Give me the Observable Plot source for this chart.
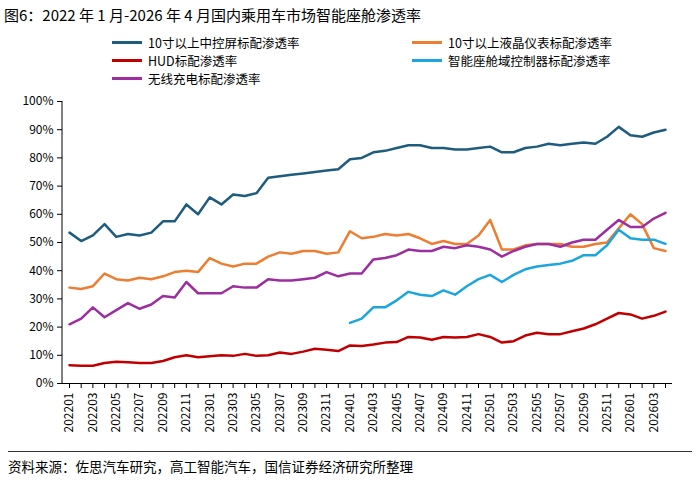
<!DOCTYPE html><html><head><meta charset="utf-8">
<script src="https://cdn.jsdelivr.net/npm/d3@7"></script>
<script src="https://cdn.jsdelivr.net/npm/@observablehq/plot@0.6"></script>
<style>body{margin:0;font-family:"Noto Sans CJK SC",sans-serif;background:#fff;width:700px}
.t{font-size:15px;margin:4px 0 0 4px;height:22px;line-height:22px}
.lg{display:grid;grid-template-columns:300px 300px;margin:8px 0 0 112px;font-size:12.5px;row-gap:1px}
.lg div{display:flex;align-items:center;height:17px;line-height:17px;white-space:nowrap}
.lg span{display:inline-block;width:30px;height:3px;margin-right:6px}
.cap{border-top:1px solid #333;margin:4px 8px 0 8px;padding-top:4px;font-size:13.5px}
</style></head><body>
<div class="t">图6：2022 年 1 月-2026 年 4 月国内乘用车市场智能座舱渗透率</div>
<div class="lg">
<div><span style="background:#1d5c7e"></span>10寸以上中控屏标配渗透率</div>
<div><span style="background:#ed7d31"></span>10寸以上液晶仪表标配渗透率</div>
<div><span style="background:#c00000"></span>HUD标配渗透率</div>
<div><span style="background:#1ba6dd"></span>智能座舱域控制器标配渗透率</div>
<div><span style="background:#9c2ea0"></span>无线充电标配渗透率</div>
</div>
<div id="c"></div>
<div class="cap">资料来源：佐思汽车研究，高工智能汽车，国信证券经济研究所整理</div>
<script>
const months=[];for(let y=2022;y<=2026;y++)for(let m=1;m<=12;m++){if(y===2026&&m>4)break;months.push(`${y}${String(m).padStart(2,"0")}`);}
const screen=[53.5,50.5,52.5,56.5,52,53,52.5,53.5,57.5,57.5,63.5,60,66,63.5,67,66.5,67.5,73,73.5,74,74.5,75,75.5,76,79.5,80,82,82.5,83.5,84.5,84.5,83.5,83.5,83,83,83.5,84,82,82,83.5,84,85,84.5,85,85.5,85,87.5,91,88,87.5,89,90];
const cluster=[34,33.5,34.5,39,37,36.5,37.5,37,38,39.5,40,39.5,44.5,42.5,41.5,42.5,42.5,45,46.5,46,47,47,46,46.5,54,51.5,52,53,52.5,53,51.5,49.5,50.5,49.5,49.5,52.5,58,47.5,47.5,49,49.5,49.5,49.5,48.5,48.5,49.5,50,55,60,56.5,48,47];
const wireless=[21,23,27,23.5,26,28.5,26.5,28,31,30.5,36,32,32,32,34.5,34,34,37,36.5,36.5,37,37.5,39.5,38,39,39,44,44.5,45.5,47.5,47,47,48.5,48,49,48.5,47.5,45,47,48.5,49.5,49.5,48.5,50,51,51,54.5,58,55.5,55.5,58.5,60.5];
const domain=[21.5,23,27,27,29.5,32.5,31.5,31,33,31.5,34.5,37,38.5,36,38.5,40.5,41.5,42,42.5,43.5,45.5,45.5,49,54.5,51.5,51,51,49.5];
const hud=[6.5,6.3,6.3,7.3,7.7,7.5,7.3,7.3,8,9.3,10,9.3,9.7,10,9.8,10.5,9.8,10,11,10.5,11.3,12.3,12,11.5,13.5,13.3,13.8,14.5,14.7,16.5,16.3,15.5,16.5,16.3,16.5,17.5,16.5,14.5,15,17,18,17.5,17.5,18.5,19.5,21,23,25,24.5,23,24,25.5];
const domainStart=months.indexOf("202401");
const series=[["screen",screen,"#1d5c7e",0],["cluster",cluster,"#ed7d31",0],["hud",hud,"#c00000",0],["domain",domain,"#1ba6dd",domainStart],["wireless",wireless,"#9c2ea0",0]];
const rows=series.flatMap(([k,v,c,o])=>v.map((y,i)=>({k,m:months[i+o],y})));
const colors=Object.fromEntries(series.map(s=>[s[0],s[2]]));
const H=360,MT=14,MB=64;
const chart=Plot.plot({width:700,height:H,marginLeft:62,marginRight:28,marginTop:MT,marginBottom:MB,
style:{fontFamily:"Noto Sans CJK SC, sans-serif",fontSize:"12px",color:"#000",overflow:"visible"},
x:{type:"point",domain:months,padding:0.6,label:null},
y:{domain:[0,100],label:null},
marks:[
Plot.axisY({ticks:d3.range(0,101,10),tickFormat:d=>d+"%",tickSize:5,label:null,fontSize:12}),
Plot.axisX({ticks:months,tickFormat:(d,i)=>i%2===0?d:"",tickRotate:-90,tickSize:5,label:null,fontSize:12}),
Plot.ruleY([0],{stroke:"#000"}),
Plot.line(rows,{x:"m",y:"y",z:"k",stroke:d=>colors[d.k],strokeWidth:2.5})
]});
d3.select(chart).append("line").attr("x1",62).attr("x2",62).attr("y1",MT).attr("y2",H-MB).attr("stroke","#000");
document.getElementById("c").appendChild(chart);
</script></body></html>
